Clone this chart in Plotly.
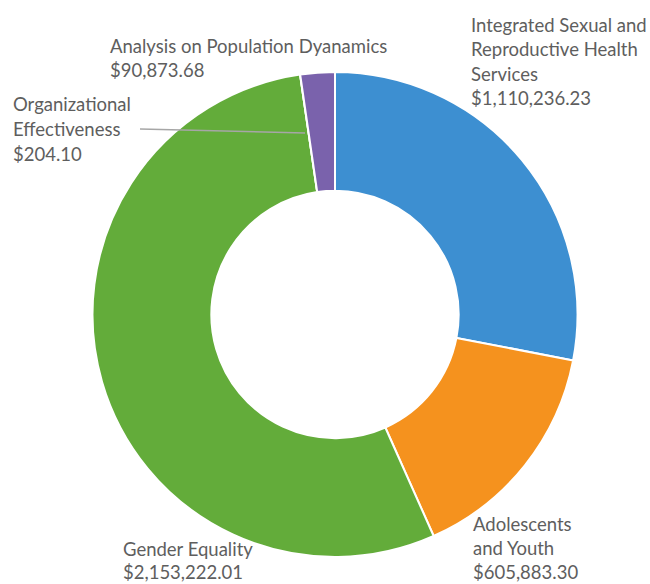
import plotly.graph_objects as go

categories = ["Integrated Sexual and Reproductive Health Services", "Adolescents and Youth",
              "Gender Equality", "Organizational Effectiveness", "Analysis on Population Dyanamics"]
values = [1110236.23, 605883.30, 2153222.01, 204.10, 90873.68]
colors = ["#3D8FD1", "#F5921E", "#63AC3A", "#8A8A8A", "#7A62AC"]

label_lines = [
    ["Integrated Sexual and", "Reproductive Health", "Services"],
    ["Adolescents", "and Youth"],
    ["Gender Equality"],
    ["Organizational", "Effectiveness"],
    ["Analysis on Population Dyanamics"],
]
# label anchor (left x, first line y, line spacing) in pixels
label_pos = [(469, 25, 24.4), (471, 524, 24), (121, 549, 23), (11, 104, 25), (108, 46, 24)]

W, H = 650, 584
cx, cy, R = 335, 314.5, 242.5

fig = go.Figure(go.Pie(
    labels=categories, values=values, sort=False, direction="clockwise", rotation=0,
    hole=0.51, textinfo="none", hoverinfo="label+value",
    marker=dict(colors=colors, line=dict(color="white", width=2)),
    domain=dict(x=[(cx - R) / W, (cx + R) / W], y=[(H - cy - R) / H, (H - cy + R) / H]),
    showlegend=False,
))

anns = []
for cat, v, lines, (px, py, lh) in zip(categories, values, label_lines, label_pos):
    texts = lines + ["${:,.2f}".format(v)]
    for i, t in enumerate(texts):
        anns.append(dict(x=px / W, y=1 - (py + i * lh) / H, xref="paper", yref="paper",
                         text=t, showarrow=False, xanchor="left", yanchor="middle",
                         font=dict(family="Lato", size=18.5, color="#5E5E5E")))

fig.update_layout(
    width=W, height=H, margin=dict(l=0, r=0, t=0, b=0),
    paper_bgcolor="white", plot_bgcolor="white", annotations=anns,
    shapes=[dict(type="line", xref="paper", yref="paper",
                 x0=140 / W, y0=1 - 129 / H, x1=305 / W, y1=1 - 133 / H,
                 line=dict(color="#A6A6A6", width=1.5))],
)
fig.write_html("out.html", config={"displayModeBar": False},
               post_script="document.body.style.margin='0';")
